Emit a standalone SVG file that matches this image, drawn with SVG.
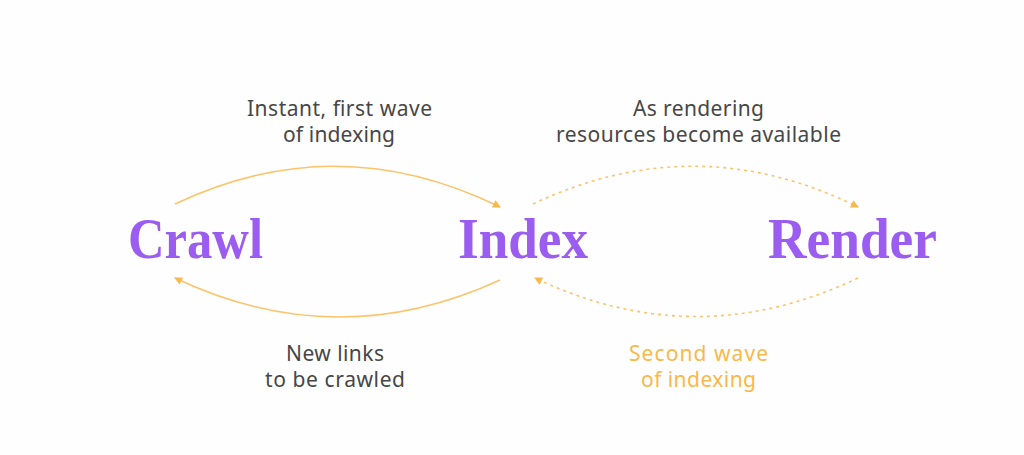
<svg xmlns="http://www.w3.org/2000/svg" width="1024" height="455" viewBox="0 0 1024 455">
<defs>
<style>
.big{font-family:"Liberation Serif","DejaVu Serif",serif;font-weight:bold;font-size:56px;fill:#9b5cf0}
.lbl{font-family:"Noto Sans","Lato",sans-serif;font-size:21px;fill:#474747;text-anchor:middle}
.or{fill:#f9b84a}
.arc{fill:none;stroke:#fcc46a;stroke-width:1.6}
.dash{stroke-dasharray:3 4}
</style>
<marker id="ah" markerWidth="10" markerHeight="10" refX="8" refY="5" orient="auto" markerUnits="userSpaceOnUse">
<path d="M1,1 L9,5 L1,9 Z" fill="#f9b84a"/>
</marker>
</defs>
<rect width="1024" height="455" fill="#fefefe"/>
<g id="connectors">
<path class="arc" d="M175,204 Q337,127 500,207" marker-end="url(#ah)"/>
<path class="arc" d="M500,280 Q337,355 175,278" marker-end="url(#ah)"/>
<path class="arc dash" d="M533,204 Q696,127 858,207" marker-end="url(#ah)"/>
<path class="arc dash" d="M858,278 Q696,355 535,278" marker-end="url(#ah)"/>
</g>
<g id="crawl"><text class="big" x="128" y="258" textLength="135" lengthAdjust="spacingAndGlyphs">Crawl</text></g>
<g id="index"><text class="big" x="458" y="258" textLength="130" lengthAdjust="spacingAndGlyphs">Index</text></g>
<g id="render"><text class="big" x="768" y="258" textLength="169" lengthAdjust="spacingAndGlyphs">Render</text></g>
<g id="label-first">
<text class="lbl" x="339.5" y="116" textLength="185">Instant, first wave</text>
<text class="lbl" x="339" y="142" textLength="112">of indexing</text>
</g>
<g id="label-render">
<text class="lbl" x="698.5" y="116" textLength="131">As rendering</text>
<text class="lbl" x="698.5" y="142" textLength="285">resources become available</text>
</g>
<g id="label-newlinks">
<text class="lbl" x="335" y="361" textLength="98">New links</text>
<text class="lbl" x="335" y="387" textLength="140">to be crawled</text>
</g>
<g id="label-second">
<text class="lbl or" x="698.5" y="361" textLength="139">Second wave</text>
<text class="lbl or" x="698.5" y="387" textLength="115">of indexing</text>
</g>
</svg>
